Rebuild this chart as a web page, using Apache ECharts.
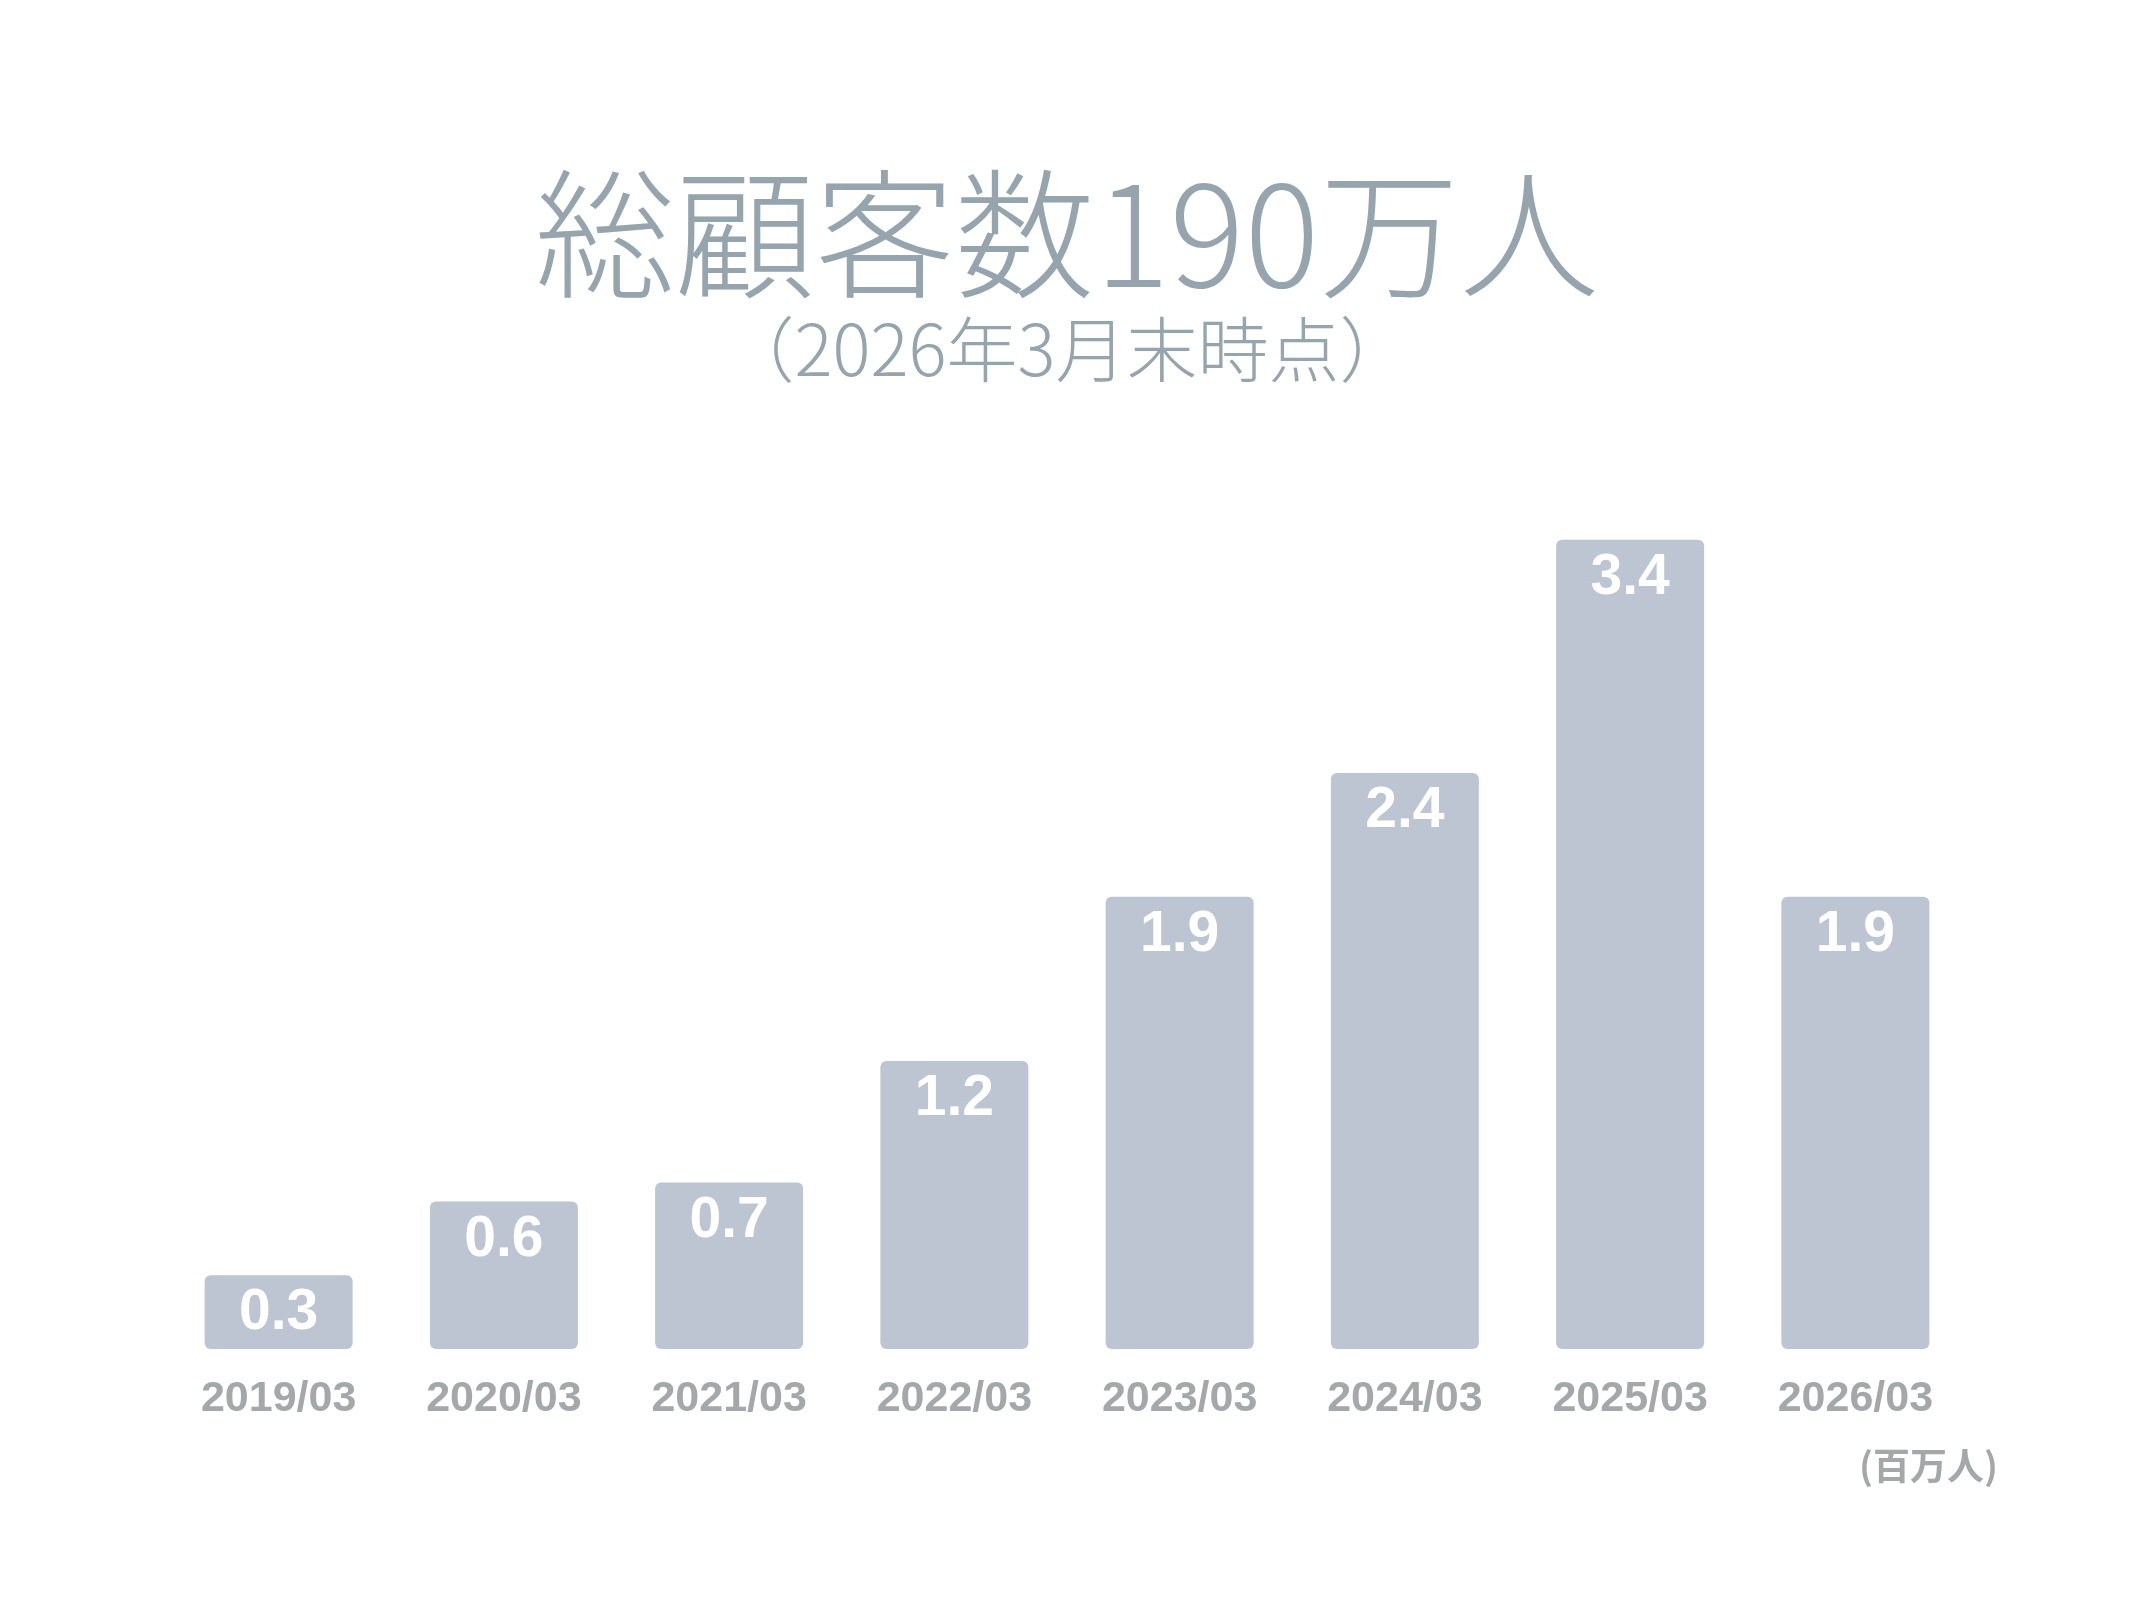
<!DOCTYPE html>
<html>
<head>
<meta charset="utf-8">
<script src="https://cdn.jsdelivr.net/npm/echarts@6/dist/echarts.min.js"></script>
<style>
  html, body { margin: 0; padding: 0; background: #fff; }
  #chart { width: 2134px; height: 1601px; }
</style>
</head>
<body>
<div id="chart"></div>
<script>
// 年度末ごとの総顧客数（百万人）
const categories = ['2019/03', '2020/03', '2021/03', '2022/03', '2023/03', '2024/03', '2025/03', '2026/03'];
const customers = [0.31, 0.62, 0.70, 1.21, 1.90, 2.42, 3.40, 1.90];

const titleText = '総顧客数190万人';
const subText = '（2026年3月末時点）';
const unitText = '(百万人)';

const chart = echarts.init(document.getElementById('chart'));

const option = {
  backgroundColor: '#ffffff',
  animation: false,
  grid: { left: 166, right: 166, top: 397, bottom: 252 },
  xAxis: {
    type: 'category',
    data: categories,
    axisLine: { show: false },
    axisTick: { show: false },
    axisLabel: {
      margin: 29,
      color: '#a6a7a9',
      fontSize: 43,
      fontWeight: 'bold',
      fontFamily: 'Liberation Sans'
    }
  },
  yAxis: {
    type: 'value',
    min: 0,
    max: 4,
    show: false
  },
  series: [{
    type: 'bar',
    data: customers,
    barWidth: 148,
    itemStyle: { color: '#bdc5d2', borderRadius: 6 },
    label: {
      show: true,
      position: 'insideTop',
      distance: 10,
      color: '#ffffff',
      fontSize: 57,
      fontWeight: 'bold',
      fontFamily: 'Liberation Sans',
      formatter: p => p.value.toFixed(1)
    }
  }],
  graphic: [
    {
      type: 'text',
      left: 'center',
      top: 164,
      style: {
        text: titleText,
        fill: '#95a4ad',
        font: '300 140px "Noto Sans CJK JP"'
      }
    },
    {
      type: 'text',
      left: 'center',
      top: 314,
      style: {
        text: subText,
        fill: '#95a4ad',
        font: '300 71px "Noto Sans CJK JP"'
      }
    },
    {
      type: 'text',
      right: 136,
      top: 1447,
      style: {
        text: unitText,
        fill: '#a6a7a9',
        font: 'bold 37px "Noto Sans CJK JP"'
      }
    }
  ]
};

chart.setOption(option);
</script>
</body>
</html>
